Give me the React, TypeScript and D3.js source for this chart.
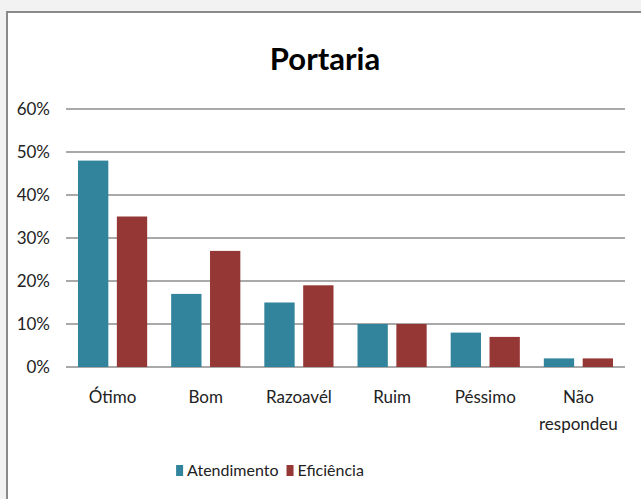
import React, { useEffect, useRef } from 'react';
import * as d3 from 'd3';

const categories = ['Ótimo', 'Bom', 'Razoavél', 'Ruim', 'Péssimo', 'Não respondeu'];
const seriesNames = ['Atendimento', 'Eficiência'];
const atendimento = [48, 17, 15, 10, 8, 2];
const eficiencia = [35, 27, 19, 10, 7, 2];
const yTicks = [0, 10, 20, 30, 40, 50, 60];
const colors = ['#31849B', '#953735'];

const FONT = "Lato, 'Open Sans', sans-serif";

const App = () => {
  const ref = useRef<SVGSVGElement>(null);

  useEffect(() => {
    const width = 641;
    const height = 499;
    const margin = { top: 109, right: 16, bottom: 132, left: 66 };
    const innerW = width - margin.left - margin.right;
    const innerH = height - margin.top - margin.bottom;

    const root = d3.select(ref.current);
    root.selectAll('*').remove();

    // page background + chart box
    root.append('rect').attr('width', width).attr('height', height).attr('fill', '#f3f2f2');
    root
      .append('rect')
      .attr('x', 7)
      .attr('y', 12)
      .attr('width', width)
      .attr('height', height)
      .attr('fill', '#fff')
      .attr('stroke', '#8a8a8a')
      .attr('stroke-width', 2);

    root
      .append('text')
      .attr('x', 325)
      .attr('y', 70)
      .attr('text-anchor', 'middle')
      .style('font-family', FONT)
      .style('font-weight', 'bold')
      .style('font-size', '31px')
      .attr('fill', '#000')
      .text('Portaria');

    const svg = root.append('g').attr('transform', `translate(${margin.left},${margin.top})`);

    const x0 = d3.scaleBand().domain(categories).range([0, innerW]).padding(0);
    const x1 = d3.scaleBand().domain(seriesNames).range([12, x0.bandwidth() - 12]).paddingInner(0.22);
    const y = d3.scaleLinear().domain([0, 60]).range([innerH, 0]);

    // gridlines
    svg
      .selectAll('.grid')
      .data(yTicks)
      .enter()
      .append('line')
      .attr('x1', 0)
      .attr('x2', innerW)
      .attr('y1', (d) => y(d))
      .attr('y2', (d) => y(d))
      .attr('stroke', '#8c8c8c')
      .attr('stroke-width', 1.3);

    // y labels
    svg
      .selectAll('.ylab')
      .data(yTicks)
      .enter()
      .append('text')
      .attr('x', -16)
      .attr('y', (d) => y(d))
      .attr('dy', '0.35em')
      .attr('text-anchor', 'end')
      .style('font-family', FONT)
      .style('font-size', '17px')
      .attr('fill', '#222')
      .text((d) => `${d}%`);

    const data = categories.map((c, i) => ({ c, vals: [atendimento[i], eficiencia[i]] }));

    const groups = svg
      .selectAll('.grp')
      .data(data)
      .enter()
      .append('g')
      .attr('transform', (d) => `translate(${x0(d.c)},0)`);

    groups
      .selectAll('rect')
      .data((d) => d.vals.map((v, k) => ({ v, k })))
      .enter()
      .append('rect')
      .attr('x', (d) => x1(seriesNames[d.k]))
      .attr('width', x1.bandwidth())
      .attr('y', (d) => y(d.v))
      .attr('height', (d) => innerH - y(d.v))
      .attr('fill', (d) => colors[d.k]);

    // category labels
    groups.each(function (d) {
      const words = d.c === 'Não respondeu' ? ['Não', 'respondeu'] : [d.c];
      const t = d3
        .select(this)
        .append('text')
        .attr('x', x0.bandwidth() / 2)
        .attr('y', innerH + 36)
        .attr('text-anchor', 'middle')
        .style('font-family', FONT)
        .style('font-size', '17px')
        .attr('fill', '#222');
      words.forEach((w, i) => {
        t.append('tspan')
          .attr('x', x0.bandwidth() / 2)
          .attr('dy', i === 0 ? 0 : 27)
          .text(w);
      });
    });

    // legend, laid out from measured text widths and centred
    const legend = root.append('g');
    let cursor = 0;
    seriesNames.forEach((s, i) => {
      const g = legend.append('g').attr('transform', `translate(${cursor},0)`);
      g.append('rect').attr('y', -11).attr('width', 7).attr('height', 11).attr('fill', colors[i]);
      const txt = g
        .append('text')
        .attr('x', 11)
        .style('font-family', FONT)
        .style('font-size', '16px')
        .attr('fill', '#222')
        .text(s);
      const w = (txt.node() as SVGTextElement).getComputedTextLength();
      cursor += 11 + w + 8;
    });
    const total = cursor - 8;
    legend.attr('transform', `translate(${270 - total / 2},476)`);
  }, []);

  return (
    <svg
      ref={ref}
      width={641}
      height={499}
      style={{ position: 'absolute', left: 0, top: 0 }}
    ></svg>
  );
};

export default App;
